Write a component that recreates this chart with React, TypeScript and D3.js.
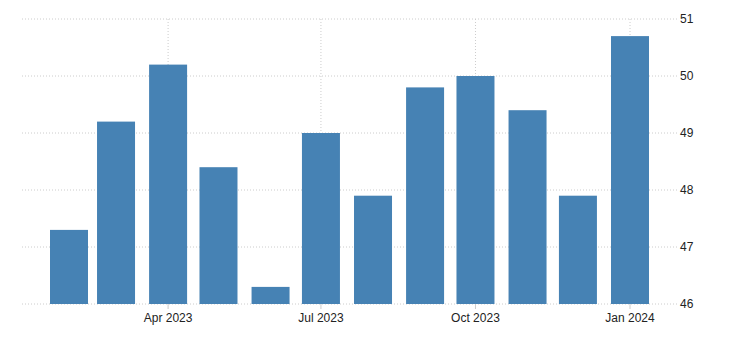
import React from "react";
import * as d3 from "d3";

const months = ["2023-02","2023-03","2023-04","2023-05","2023-06","2023-07","2023-08","2023-09","2023-10","2023-11","2023-12","2024-01"];
const values = [47.3, 49.2, 50.2, 48.4, 46.3, 49.0, 47.9, 49.8, 50.0, 49.4, 47.9, 50.7];
const yTicks = [46, 47, 48, 49, 50, 51];
const xTicks = ["2023-04", "2023-07", "2023-10", "2024-01"];

const parse = d3.timeParse("%Y-%m");
const fmt = d3.timeFormat("%b %Y");

export default function App() {
  const W = 730, H = 351;
  const x = d3.scaleTime().domain([parse("2023-02")!, parse("2024-01")!]).range([69, 630]);
  const y = d3.scaleLinear().domain([46, 51]).range([304, 19]);
  const left = 22, right = 677;
  const bw = 38;
  const font = "'Liberation Sans', Arial, sans-serif";
  return (
    <svg width={W} height={H} style={{ position: "absolute", left: 0, top: 0 }}>
      {yTicks.map((t) => (
        <line key={"gy" + t} x1={left} x2={right} y1={y(t)} y2={y(t)} stroke="#ccc" strokeDasharray="1,2" />
      ))}
      {xTicks.map((t) => {
        const xx = x(parse(t)!);
        return <line key={"gx" + t} x1={xx} x2={xx} y1={y(51)} y2={y(46)} stroke="#ccc" strokeDasharray="1,2" />;
      })}
      {months.map((m, i) => (
        <rect key={m} x={x(parse(m)!) - bw / 2} y={y(values[i])} width={bw} height={y(46) - y(values[i])} fill="#4682B4" />
      ))}
      {xTicks.map((t) => {
        const xx = x(parse(t)!);
        return (
          <g key={"xt" + t}>
            <line x1={xx} x2={xx} y1={304} y2={309} stroke="#ccc" />
            <text x={xx} y={322} textAnchor="middle" fontFamily={font} fontSize={12} fill="#222">{fmt(parse(t)!)}</text>
          </g>
        );
      })}
      {yTicks.map((t) => (
        <text key={"yt" + t} x={680} y={y(t) + 4} fontFamily={font} fontSize={12} fill="#222">{t}</text>
      ))}
    </svg>
  );
}
